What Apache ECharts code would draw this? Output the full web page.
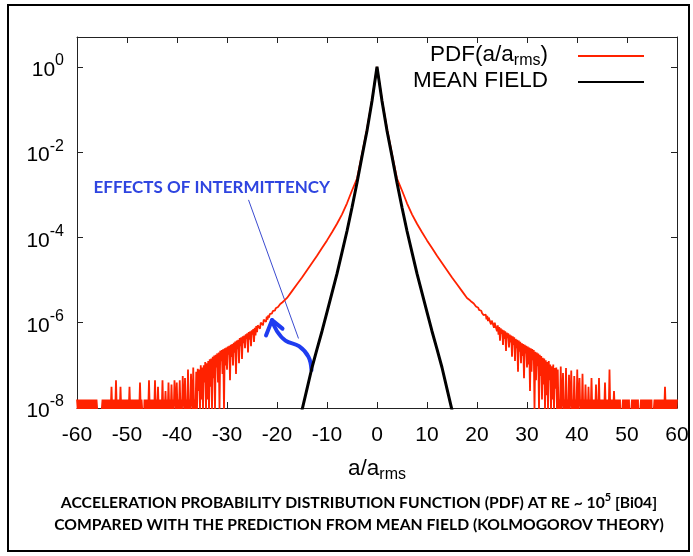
<!DOCTYPE html>
<html><head><meta charset="utf-8">
<script src="https://cdn.jsdelivr.net/npm/echarts@6/dist/echarts.min.js"></script>
<style>html,body{margin:0;padding:0;background:#fff}#c{width:693px;height:556px}</style>
</head><body><div id="c"></div>
<script>
// ---- data (log10 of probability density) ----
const yTickExponents = [-8, -6, -4, -2, 0];
const yMaxLog = Math.log10(5);
// mean field prediction (symmetric), |a| and log10 P
const meanFieldA   = [0, 1, 2, 3, 4, 5, 6, 7, 8, 9, 10, 11, 12, 13, 14, 15, 16];
const meanFieldLog = [0, -0.8, -1.5, -2.1, -2.72, -3.3, -3.85, -4.35, -4.85, -5.3, -5.75, -6.2, -6.62, -7.05, -7.55, -8.05, -8.55];
// measured PDF, smooth core (|a| <= 18)
const pdfCoreA   = [0, 1, 2, 3, 4, 5, 6, 7, 8, 9, 10, 11, 12, 13, 14, 15, 16, 17, 18];
const pdfCoreLog = [0, -0.78, -1.45, -2.05, -2.62, -2.9, -3.2, -3.46, -3.68, -3.88, -4.07, -4.25, -4.43, -4.6, -4.77, -4.94, -5.1, -5.26, -5.42];
// noisy tails, sampled every 0.15 from |a| = 18.15 to 60 (one row = 3 units)
const tailStart = 18.15, tailStep = 0.15;
const pdfLeftTailLog = [
-5.44,-5.46,-5.47,-5.49,-5.50,-5.52,-5.53,-5.56,-5.56,-5.59,-5.60,-5.63,-5.63,-5.67,-5.66,-5.71,-5.70,-5.74,-5.73,-5.78,
-5.76,-5.84,-5.80,-5.88,-5.83,-5.93,-5.86,-5.98,-5.90,-5.96,-5.93,-6.06,-5.97,-6.02,-6.00,-6.14,-6.02,-6.10,-6.06,-6.22,
-6.08,-6.30,-6.12,-6.45,-6.15,-6.28,-6.18,-6.55,-6.20,-6.40,-6.22,-6.70,-6.25,-6.38,-6.27,-6.60,-6.30,-6.48,-6.32,-6.85,
-6.34,-6.55,-6.36,-6.95,-6.40,-6.62,-6.42,-7.20,-6.44,-6.70,-6.47,-7.00,-6.50,-6.80,-6.52,-7.35,-6.54,-6.75,-6.56,-7.10,
-6.58,-7.00,-6.60,-8.05,-6.62,-7.20,-6.64,-6.90,-6.66,-8.05,-6.70,-7.40,-6.72,-7.05,-6.75,-8.05,-6.77,-7.30,-6.80,-8.05,
-6.84,-7.50,-6.86,-8.05,-6.90,-7.80,-6.95,-8.05,-6.92,-7.40,-7.00,-8.05,-7.05,-7.80,-7.00,-8.05,-7.10,-7.60,-7.08,-8.05,
-7.15,-8.05,-7.80,-8.05,-7.05,-8.05,-7.80,-7.20,-8.05,-7.80,-8.05,-7.10,-8.05,-7.80,-8.05,-7.30,-8.05,-7.80,-7.25,-8.05,
-7.80,-8.05,-7.35,-8.05,-7.80,-8.05,-7.40,-8.05,-7.80,-7.35,-8.05,-7.80,-8.05,-7.45,-8.05,-7.80,-8.05,-7.40,-8.05,-7.80,
-8.05,-7.60,-8.05,-7.80,-8.05,-7.35,-8.05,-7.80,-8.05,-7.80,-8.05,-7.50,-8.05,-7.80,-8.05,-7.35,-8.05,-7.80,-8.05,-7.80,
-8.05,-7.80,-8.05,-7.35,-8.05,-7.80,-8.05,-7.80,-8.05,-7.80,-9.00,-9.00,-8.05,-7.80,-8.05,-7.40,-8.05,-7.80,-8.05,-7.80,
-8.05,-7.80,-8.05,-7.80,-8.05,-7.80,-8.05,-7.80,-8.05,-7.50,-8.05,-7.80,-8.05,-7.80,-8.05,-7.80,-8.05,-7.80,-8.05,-7.80,
-8.05,-7.50,-8.05,-7.80,-8.05,-7.80,-8.05,-7.35,-8.05,-7.80,-8.05,-7.80,-8.05,-7.50,-8.05,-7.80,-8.05,-7.80,-8.05,-7.80,
-8.05,-7.80,-8.05,-7.80,-8.05,-7.80,-8.05,-9.00,-9.00,-9.00,-9.00,-9.00,-8.05,-7.80,-8.05,-7.80,-8.05,-7.80,-8.05,-7.80,
-8.05,-7.80,-8.05,-7.80,-8.05,-7.80,-8.05,-7.80,-8.05,-7.80,-8.05,-7.80,-8.05,-7.80,-8.05,-7.80,-8.05,-7.80,-8.05,-7.80
];
const pdfRightTailLog = [
-5.43,-5.45,-5.46,-5.48,-5.49,-5.51,-5.52,-5.55,-5.55,-5.58,-5.59,-5.62,-5.62,-5.66,-5.65,-5.70,-5.69,-5.73,-5.72,-5.77,
-5.75,-5.82,-5.78,-5.86,-5.81,-5.92,-5.84,-5.96,-5.88,-5.94,-5.91,-6.04,-5.95,-6.00,-5.98,-6.12,-6.00,-6.08,-6.04,-6.20,
-6.06,-6.28,-6.10,-6.42,-6.13,-6.26,-6.16,-6.52,-6.18,-6.38,-6.20,-6.66,-6.23,-6.36,-6.25,-6.58,-6.28,-6.46,-6.30,-6.80,
-6.32,-6.52,-6.34,-6.90,-6.38,-6.60,-6.40,-7.15,-6.42,-6.68,-6.45,-6.95,-6.48,-6.78,-6.50,-7.30,-6.52,-6.72,-6.54,-7.05,
-6.56,-6.98,-6.58,-7.60,-6.60,-7.15,-6.62,-6.88,-6.64,-8.05,-6.68,-7.35,-6.70,-7.02,-6.72,-8.05,-6.75,-7.25,-6.78,-7.80,
-6.82,-7.45,-6.84,-8.05,-6.88,-7.70,-6.92,-8.05,-6.90,-7.35,-6.98,-8.05,-7.02,-7.80,-6.98,-8.05,-7.06,-7.55,-7.05,-8.05,
-7.10,-8.05,-7.80,-8.05,-7.03,-8.05,-7.80,-7.18,-8.05,-7.80,-8.05,-7.06,-8.05,-7.80,-8.05,-7.22,-8.05,-7.80,-7.12,-8.05,
-7.80,-8.05,-7.25,-8.05,-7.80,-8.05,-7.10,-8.05,-7.80,-7.30,-8.05,-7.80,-8.05,-7.20,-8.05,-7.80,-8.05,-7.45,-8.05,-7.80,
-8.05,-7.50,-8.05,-7.80,-8.05,-7.30,-8.05,-7.80,-8.05,-7.80,-8.05,-7.45,-8.05,-7.80,-8.05,-7.30,-8.05,-7.80,-8.05,-7.80,
-8.05,-7.80,-8.05,-7.40,-8.05,-7.80,-8.05,-7.80,-8.05,-7.10,-8.05,-7.80,-8.05,-7.80,-8.05,-7.60,-8.05,-7.80,-8.05,-7.80,
-8.05,-7.80,-8.05,-7.80,-9.00,-9.00,-8.05,-7.80,-8.05,-7.80,-8.05,-7.80,-8.05,-7.80,-8.05,-7.80,-9.00,-9.00,-8.05,-7.80,
-8.05,-7.80,-8.05,-7.80,-8.05,-7.80,-8.05,-7.80,-9.00,-9.00,-8.05,-7.80,-8.05,-7.80,-8.05,-7.80,-8.05,-7.80,-8.05,-7.80,
-8.05,-7.80,-8.05,-7.80,-8.05,-7.80,-9.00,-9.00,-8.05,-7.80,-8.05,-7.80,-8.05,-7.80,-8.05,-7.80,-8.05,-7.80,-8.05,-7.80,
-8.05,-7.80,-8.05,-7.50,-8.05,-7.80,-8.05,-7.80,-8.05,-7.80,-8.05,-7.80,-8.05,-7.80,-8.05,-7.80,-8.05,-7.80,-8.05,-7.80
];
// annotation anchors in data coordinates (a, log10 P)
const noteTextAt = [-56.7, -2.82];
const noteLine = [[-25.7, -3.12], [-15.7, -6.37]];
const arrowShaft = [[-13.1, -7.11], [-13.7, -6.8], [-15.6, -6.55], [-18.3, -6.42], [-20.0, -6.2], [-21.0, -5.94]];
const arrowHead = [[-22.2, -6.3], [-21.0, -5.94], [-18.9, -6.14]];

// ---- build series ----
function mirror(A, L) {
  const out = [];
  for (let i = A.length - 1; i >= 1; i--) out.push([-A[i], L[i]]);
  for (let i = 0; i < A.length; i++) out.push([A[i], L[i]]);
  return out;
}
const pdfData = [];
for (let i = pdfLeftTailLog.length - 1; i >= 0; i--) pdfData.push([-(tailStart + i * tailStep), pdfLeftTailLog[i]]);
mirror(pdfCoreA, pdfCoreLog).forEach(p => pdfData.push(p));
for (let i = 0; i < pdfRightTailLog.length; i++) pdfData.push([tailStart + i * tailStep, pdfRightTailLog[i]]);
const meanData = mirror(meanFieldA, meanFieldLog);

const FONT = 'Liberation Sans';
const LINE = {color: '#222', width: 1};
const chart = echarts.init(document.getElementById('c'));
const option = {
  animation: false,
  backgroundColor: '#fff',
  grid: {left: 77, right: 16, top: 37, bottom: 148},
  legend: {
    orient: 'vertical', right: 48, top: 43, padding: 0, itemGap: 0, itemWidth: 66, itemHeight: 14,
    align: 'right', selectedMode: false, itemStyle: {opacity: 0},
    data: ['PDF', 'MEAN FIELD'],
    formatter: n => n === 'PDF' ? '{t|PDF(a/a}{s|rms}{t|)}{g| }' : '{t|MEAN FIELD}{g| }',
    textStyle: {rich: {
      t: {fontSize: 22.5, fontFamily: FONT, color: '#000', lineHeight: 26, verticalAlign: 'top'},
      s: {fontSize: 16, fontFamily: FONT, color: '#000', verticalAlign: 'bottom'},
      g: {width: 25}
    }}
  },
  xAxis: [
    {type: 'value', min: -60, max: 60, interval: 10, position: 'bottom',
     axisLine: {show: true, onZero: false, lineStyle: LINE},
     axisTick: {show: true, inside: true, length: 6, lineStyle: LINE},
     axisLabel: {margin: 17, color: '#000', fontFamily: FONT, fontSize: 21},
     splitLine: {show: false},
     name: '{m|a/a}{s|rms}', nameLocation: 'middle', nameGap: 49,
     nameTextStyle: {rich: {
       m: {fontSize: 22.5, fontFamily: FONT, color: '#000', lineHeight: 26, verticalAlign: 'top'},
       s: {fontSize: 16, fontFamily: FONT, color: '#000', verticalAlign: 'bottom'}
     }}},
    {type: 'value', min: -60, max: 60, interval: 10, position: 'top',
     axisLine: {show: true, onZero: false, lineStyle: LINE},
     axisTick: {show: true, inside: true, length: 6, lineStyle: LINE},
     axisLabel: {show: false}, splitLine: {show: false}}
  ],
  yAxis: [
    {type: 'value', min: yTickExponents[0], max: yMaxLog, interval: 2, position: 'left',
     axisLine: {show: true, onZero: false, lineStyle: LINE},
     axisTick: {show: true, inside: true, length: 6, lineStyle: LINE},
     splitLine: {show: false},
     axisLabel: {margin: 13, formatter: v => {
         const e = Math.round(v);
         if (Math.abs(v - e) > 1e-6 || yTickExponents.indexOf(e) < 0) return '';
         return '{b|10}{s|' + e + '}';
       },
       rich: {
         b: {fontSize: 21, fontFamily: FONT, color: '#000', lineHeight: 28, verticalAlign: 'bottom'},
         s: {fontSize: 16, fontFamily: FONT, color: '#000', verticalAlign: 'top'}
       }}},
    {type: 'value', min: yTickExponents[0], max: yMaxLog, interval: 2, position: 'right',
     axisLine: {show: true, onZero: false, lineStyle: LINE},
     axisTick: {show: true, inside: true, length: 6, lineStyle: LINE},
     axisLabel: {show: false}, splitLine: {show: false}}
  ],
  series: [
    {name: 'PDF', type: 'line', data: pdfData, showSymbol: false, symbol: 'none', clip: true, sampling: null,
     lineStyle: {color: '#ff2200', width: 1.8}, itemStyle: {color: '#ff2200'}, z: 2},
    {name: 'MEAN FIELD', type: 'line', data: meanData, showSymbol: false, symbol: 'none', clip: true,
     lineStyle: {color: '#000', width: 3}, itemStyle: {color: '#000'}, z: 3}
  ]
};
chart.setOption(option);

const px = p => chart.convertToPixel({gridIndex: 0}, p);
const BLUE = '#1f3cf0';
chart.setOption({graphic: [
  {type: 'rect', silent: true, shape: {x: 8, y: 5, width: 681, height: 546},
   style: {fill: 'none', stroke: '#000', lineWidth: 2}},
  {type: 'line', silent: true, shape: {x1: px(noteLine[0])[0], y1: px(noteLine[0])[1], x2: px(noteLine[1])[0], y2: px(noteLine[1])[1]},
   style: {stroke: '#3b4bd0', lineWidth: 1}},
  {type: 'polyline', silent: true, shape: {points: arrowShaft.map(px), smooth: 0.4},
   style: {stroke: BLUE, lineWidth: 4, fill: 'none', lineCap: 'round'}},
  {type: 'polyline', silent: true, shape: {points: arrowHead.map(px)},
   style: {stroke: BLUE, lineWidth: 4, fill: 'none', lineCap: 'round', lineJoin: 'round'}},
  {type: 'text', silent: true, x: px(noteTextAt)[0], y: px(noteTextAt)[1],
   style: {text: 'EFFECTS OF INTERMITTENCY', fill: '#2f45e0', font: 'bold 17px Lato',
           align: 'left', verticalAlign: 'middle', textAlign: 'left', textVerticalAlign: 'middle'}},
  {type: 'text', silent: true, x: 359, y: 489,
   style: {text: '{c|ACCELERATION PROBABILITY DISTRIBUTION FUNCTION (PDF) AT RE ~ 10}{p|5}{c| [Bi04]}\n{c|COMPARED WITH THE PREDICTION FROM MEAN FIELD (KOLMOGOROV THEORY)}',
           align: 'center', verticalAlign: 'top', textAlign: 'center', textVerticalAlign: 'top',
           rich: {
             c: {fontFamily: 'Lato', fontWeight: 'bold', fontSize: 15.7, color: '#111', lineHeight: 22, verticalAlign: 'bottom'},
             p: {fontFamily: 'Lato', fontWeight: 'bold', fontSize: 11, color: '#111', verticalAlign: 'top', lineHeight: 18, padding: [3, 0, 0, 0]}
           }}}
]});
</script></body></html>
